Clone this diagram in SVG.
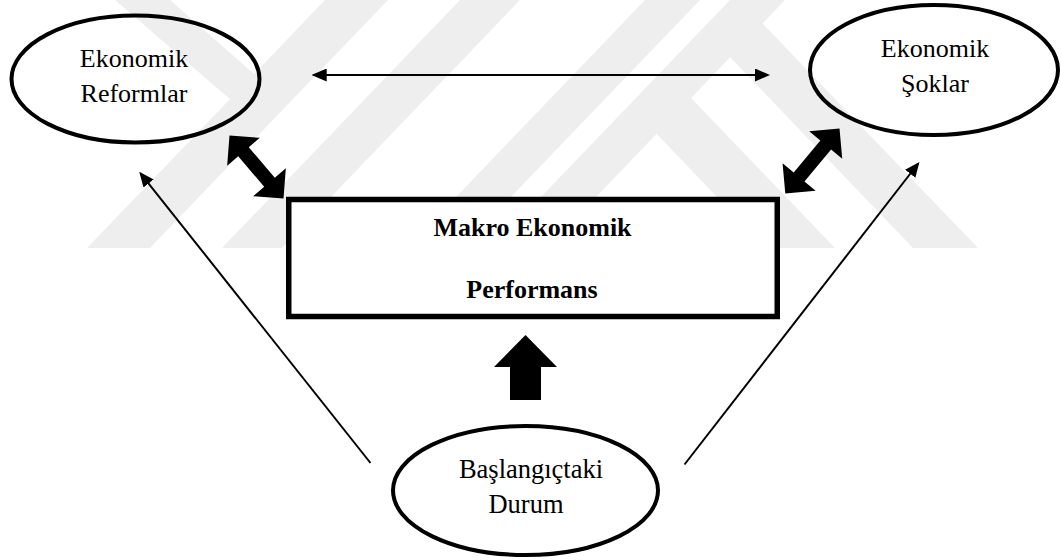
<svg xmlns="http://www.w3.org/2000/svg" width="1061" height="560" viewBox="0 0 1061 560">
<defs>
<style>
.wm{fill:#eeeeee;stroke:none}
.node{fill:none;stroke:#000;stroke-width:4}
.box{fill:#fff;stroke:#000;stroke-width:5.5}
.txt{font-family:"Liberation Serif","Times New Roman",serif;font-size:26px;fill:#000;text-anchor:middle}
.bold{font-weight:bold}
.thin{fill:none;stroke:#000;stroke-width:2}
.block{fill:#000;stroke:none}
</style>
<marker id="ah" viewBox="0 0 15 13" markerWidth="15" markerHeight="13" refX="13" refY="6.5" orient="auto-start-reverse" markerUnits="userSpaceOnUse">
<path d="M0,0 L15,6.5 L0,13 z" fill="#000"/>
</marker>
</defs>
<rect width="1061" height="560" fill="#fff"/>
<g id="watermark">
<polygon class="wm" points="115,0 170,0 270,88 245,112"/>
<polygon class="wm" points="325,0 388,0 150,248 87,248"/>
<polygon class="wm" points="460,0 520,0 282,248 222,248"/>
<polygon class="wm" points="645,0 700,0 462,248 407,248"/>
<polygon class="wm" points="730,0 785,0 547,248 492,248"/>
<polygon class="wm" points="704,30 762.5,23.4 978,248 913,248"/>
<polygon class="wm" points="629,105 691,98 835,248 766,248"/>
</g>
<g id="connectors">
<line class="thin" x1="313.7" y1="75" x2="768" y2="75" marker-start="url(#ah)" marker-end="url(#ah)"/>
<line class="thin" x1="370.5" y1="463" x2="140.5" y2="173.3" marker-end="url(#ah)"/>
<line class="thin" x1="684.5" y1="464.5" x2="918.2" y2="163.5" marker-end="url(#ah)"/>
<polygon class="block" points="229.5,135.5 259.81,137.83 248.80,147.27 274.82,177.63 285.83,168.19 283.5,198.5 253.19,196.17 264.20,186.73 238.18,156.37 227.17,165.81"/>
<polygon class="block" points="839.5,128.5 842.24,158.80 831.10,149.50 804.46,181.46 815.60,190.76 785.3,193.5 782.56,163.20 793.70,172.50 820.34,140.54 809.20,131.24"/>
<polygon class="block" points="525.5,335 557,367 541,367 541,400 510,400 510,367 494,367"/>
</g>
<g id="node-reformlar">
<ellipse class="node" cx="135.5" cy="79" rx="124" ry="63.5"/>
<text class="txt" x="134" y="67">Ekonomik</text>
<text class="txt" x="134" y="102">Reformlar</text>
</g>
<g id="node-soklar">
<ellipse class="node" cx="934" cy="70" rx="124" ry="65"/>
<text class="txt" x="935" y="57">Ekonomik</text>
<text class="txt" x="935" y="92">Şoklar</text>
</g>
<g id="node-performans">
<rect class="box" x="288.75" y="199.5" width="488.5" height="117"/>
<text class="txt bold" x="532.5" y="236">Makro Ekonomik</text>
<text class="txt bold" x="532" y="298">Performans</text>
</g>
<g id="node-durum">
<ellipse class="node" cx="525.5" cy="490.5" rx="132.5" ry="64.5"/>
<text class="txt" x="531" y="478" style="font-size:26.5px">Başlangıçtaki</text>
<text class="txt" x="526" y="513" style="font-size:26.5px">Durum</text>
</g>
</svg>
